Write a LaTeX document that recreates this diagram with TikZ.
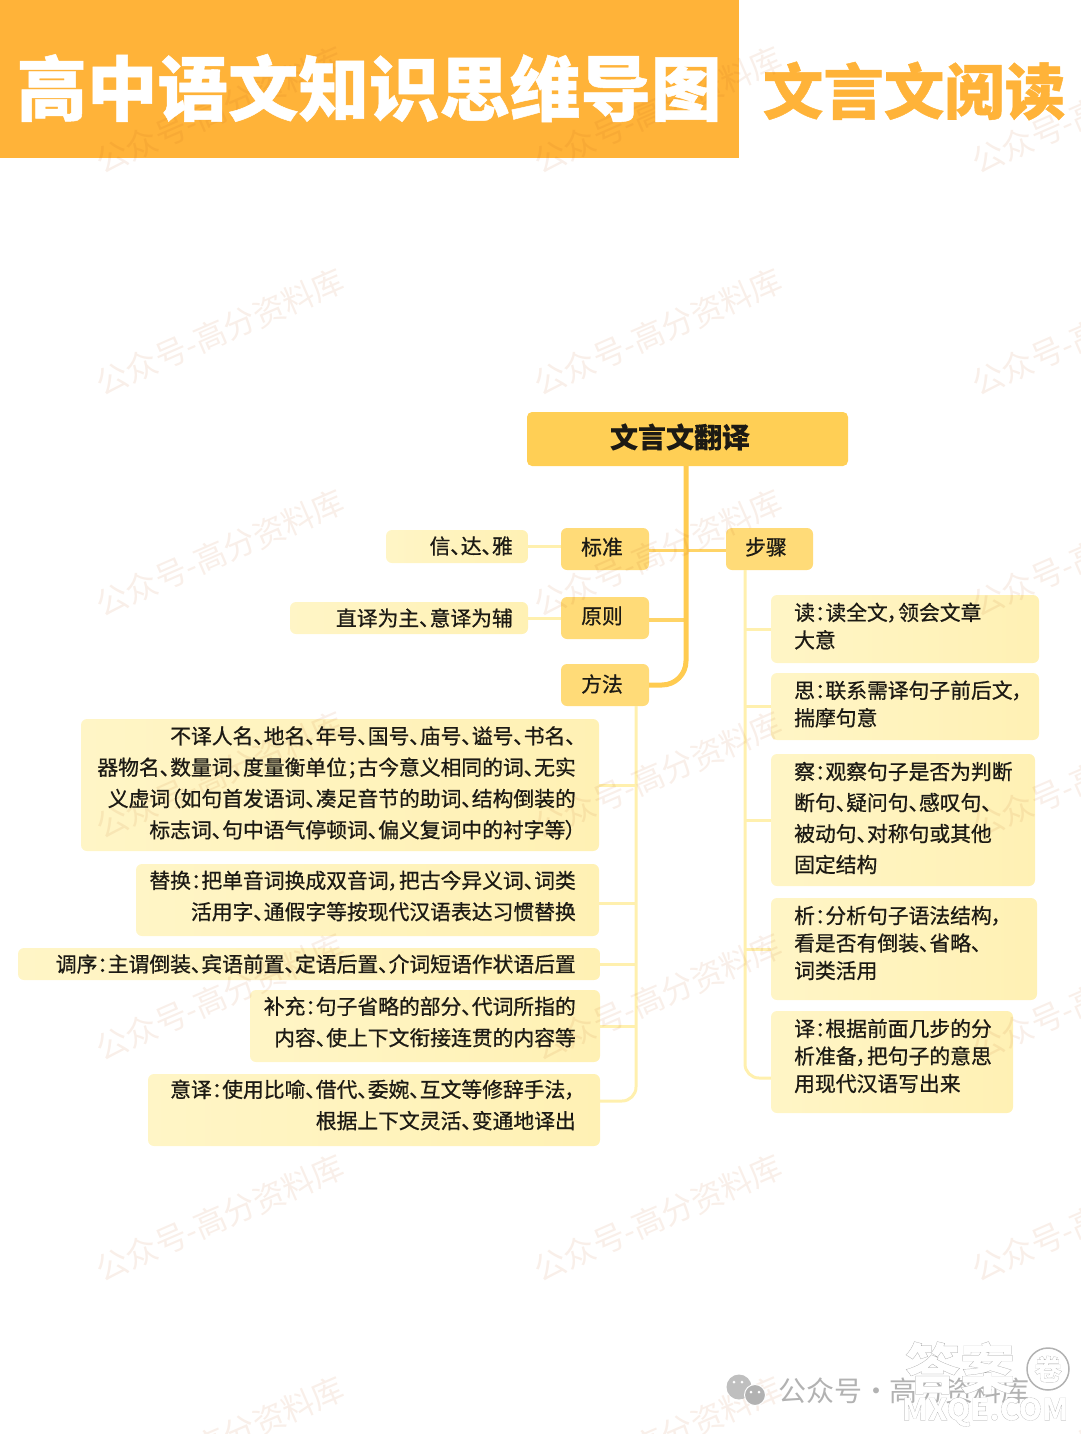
\documentclass[tikz,border=0pt]{standalone}
\usepackage{fontspec}
\setmainfont{Noto Sans CJK SC}[RawFeature=+palt,UprightFeatures={FakeBold=0.7},BoldFeatures={FakeBold=0.2}]
\newfontfamily\wmfont{Noto Sans CJK SC}[RawFeature=+palt]
\newfontfamily\headfont{Noto Sans CJK SC}[RawFeature=+palt,BoldFeatures={FakeBold=0.7}]
\newfontfamily\stampfont{Noto Sans CJK SC}[RawFeature=+palt,BoldFeatures={FakeBold=0.35}]
\definecolor{headO}{HTML}{FFB339}
\definecolor{rootY}{HTML}{FFCF55}
\definecolor{midY}{HTML}{FFDB78}
\definecolor{leafL}{HTML}{FFF5C6}
\definecolor{leafR}{HTML}{FFF1B4}
\definecolor{lineD}{HTML}{FFCB50}
\definecolor{lineL}{HTML}{FFF0AE}
\definecolor{inkT}{HTML}{1C1A14}
\definecolor{wmTint}{HTML}{B8500F}
\newcommand{\greystroke}{\special{pdf:code 0.62 G}}
\tikzset{
  x=1pt,y=-1pt,
  rootbox/.style={fill=rootY,rounded corners=5pt,inner sep=0pt},
  midbox/.style={fill=midY,rounded corners=6pt,inner sep=0pt},
  leafbox/.style={left color=leafL,right color=leafR,rounded corners=6pt,inner sep=0pt},
  rtext/.style={anchor=east,align=right,inner sep=0pt,text=inkT,font=\fontsize{20.8}{31.3}\selectfont},
  ltext/.style={anchor=west,align=left,inner sep=0pt,text=inkT,font=\fontsize{20.8}{27.5}\selectfont},
  ctext/.style={anchor=center,inner sep=0pt,text=inkT,font=\fontsize{20.8}{24}\selectfont},
  thick line/.style={draw=lineD,line width=5pt},
  mid line/.style={draw=lineD!75!lineL,line width=3.5pt},
  thin line/.style={draw=lineL,line width=3pt},
  wmark/.style={rotate=23.5,text=wmTint,opacity=.09,inner sep=0pt,font=\wmfont\fontsize{32}{34}\selectfont},
}
\newcommand{\bx}[6]{\node[#6,minimum width={(#4-#2)*1pt},minimum height={(#5-#3)*1pt}] (#1) at ({(#2+#4)/2},{(#3+#5)/2}) {};}
\begin{document}
\begin{tikzpicture}
\useasboundingbox (0,0) rectangle (1080,1434);
% header
\node[fill=headO,minimum width=739pt,minimum height=158pt,inner sep=0pt] (hd) at (369.5,79) {};
\node[text=headO,inner sep=0pt,font=\headfont\bfseries\fontsize{60.5}{62}\selectfont] (hs) at (914,91) {文言文阅读};
% boxes
\bx{root}{527}{412}{848}{466}{rootbox}
\bx{bz}{561}{528}{649}{570}{midbox}
\bx{yz}{561}{597}{649}{639}{midbox}
\bx{ff}{561}{664}{649}{706}{midbox}
\bx{bj}{726}{528}{813}{570}{midbox}
\bx{xin}{386}{530}{528}{563}{leafbox}
\bx{zy}{290}{602}{528}{634}{leafbox}
\bx{la}{81}{719}{599}{851}{leafbox}
\bx{lb}{136}{864}{599}{936}{leafbox}
\bx{lc}{18}{948}{600}{980}{leafbox}
\bx{ld}{250}{990}{600}{1062}{leafbox}
\bx{le}{148}{1074}{600}{1146}{leafbox}
\bx{ra}{771}{595}{1039}{663}{leafbox}
\bx{rb}{771}{673}{1039}{740}{leafbox}
\bx{rc}{771}{754}{1035}{886}{leafbox}
\bx{rd}{771}{898}{1037}{1000}{leafbox}
\bx{re}{771}{1011}{1013}{1113}{leafbox}
% connectors
\coordinate (spL) at (636,700);
\coordinate (spR) at (745,570);
\coordinate (spM) at (686,466);
\draw[thin line] (xin.east) -- (xin.east -| bz.west);
\draw[thin line] (zy.east) -- (yz.west);
\draw[mid line] ([yshift=-1.5pt]bz.east) -- ([yshift=-1.5pt]bj.west);
\draw[mid line] ([yshift=-2pt]yz.east) -- ([yshift=-2pt]yz.east -| spM);
\draw[thick line,rounded corners=24pt] (spM) -- (spM |- ff.east) -- (ff.east);
\draw[thin line,rounded corners=14pt] (spL |- ff.south) -- (636,1101) -- (le.east |- 636,1101);
\draw[thin line] (la.east) -- (la.east -| spL);
\draw[thin line] ([yshift=-3pt]lb.east) -- ([yshift=-3pt]lb.east -| spL);
\draw[thin line] (lc.east) -- (lc.east -| spL);
\draw[thin line] (ld.east) -- (ld.east -| spL);
\draw[thin line,rounded corners=14pt] (spR |- bj.south) -- (745,1078) -- (re.west |- 745,1078);
\draw[thin line] (ra.west) -- (ra.west -| spR);
\draw[thin line] (rb.west) -- (rb.west -| spR);
\draw[thin line] (rc.west) -- (rc.west -| spR);
\draw[thin line] (rd.west) -- (rd.west -| spR);
% watermark
\foreach \y [count=\j] in {110,332,553,775,997,1218,1440}{
  \foreach \x [count=\i] in {220,658,1096}{
    \node[wmark] (wm\i\j) at (\x,\y) {公众号-高分资料库};
  }
}
% texts
\node[text=white,inner sep=0pt,font=\headfont\bfseries\fontsize{70.5}{72}\selectfont] (ht) at (369,88) {高中语文知识思维导图};
\node[text=inkT,inner sep=0pt,font=\bfseries\fontsize{28}{30}\selectfont] (tr) at (680,437) {文言文翻译};
\node[ctext] (t1) at (602,547) {标准};
\node[ctext] (t2) at (602,616) {原则};
\node[ctext] (t3) at (602,684) {方法};
\node[ctext] (t4) at (766,547) {步骤};
\node[rtext] (t5) at (513,546) {信、达、雅};
\node[rtext] (t6) at (513,618) {直译为主、意译为辅};
\node[rtext] (t7) at (576,783) {不译人名、地名、年号、国号、庙号、谥号、书名、\\器物名、数量词、度量衡单位；古今意义相同的词、无实\\义虚词（如句首发语词、凑足音节的助词、结构倒装的\\标志词、句中语气停顿词、偏义复词中的衬字等）};
\node[rtext] (t8) at (576,896) {替换：把单音词换成双音词，把古今异义词、词类\\活用字、通假字等按现代汉语表达习惯替换};
\node[rtext] (t9) at (576,964) {调序：主谓倒装、宾语前置、定语后置、介词短语作状语后置};
\node[rtext] (t10) at (576,1022) {补充：句子省略的部分、代词所指的\\内容、使上下文衔接连贯的内容等};
\node[rtext] (t11) at (576,1105) {意译：使用比喻、借代、委婉、互文等修辞手法，\\根据上下文灵活、变通地译出};
\node[ltext] (t12) at (794,626) {读：读全文，领会文章\\大意};
\node[ltext] (t13) at (794,704) {思：联系需译句子前后文，\\揣摩句意};
\node[ltext,font=\fontsize{20.8}{31}\selectfont] (t14) at (794,818) {察：观察句子是否为判断\\断句、疑问句、感叹句、\\被动句、对称句或其他\\固定结构};
\node[ltext] (t15) at (794,943) {析：分析句子语法结构，\\看是否有倒装、省略、\\词类活用};
\node[ltext] (t16) at (794,1056) {译：根据前面几步的分\\析准备，把句子的意思\\用现代汉语写出来};
% footer
\node[circle,fill=black!25,minimum size=25pt,inner sep=0pt] (wa) at (739,1387) {};
\node[circle,fill=black!30,draw=white,line width=1pt,minimum size=21pt,inner sep=0pt] (wb) at (755,1395) {};
\node[circle,fill=white,minimum size=3pt,inner sep=0pt] (e1) at (734,1382) {};
\node[circle,fill=white,minimum size=3pt,inner sep=0pt] (e2) at (742,1382) {};
\node[circle,fill=white,minimum size=3pt,inner sep=0pt] (e3) at (751,1392) {};
\node[circle,fill=white,minimum size=3pt,inner sep=0pt] (e4) at (759,1392) {};
\node[text=black!30,inner sep=0pt,font=\wmfont\fontsize{28}{30}\selectfont] (ft) at (904,1391) {公众号 · 高分资料库};
\node[text=white,inner sep=0pt,font=\stampfont\bfseries\fontsize{55}{57}\selectfont] (s1) at (960,1368) {\greystroke 答案};
\node[circle,draw=black!30,line width=1.5pt,minimum size=42pt,inner sep=0pt] (ring) at (1048,1369) {};
\node[text=white,inner sep=0pt,font=\stampfont\bfseries\fontsize{28}{30}\selectfont] (s2) at (1048,1369) {\greystroke 卷};
\node[text=white,inner sep=0pt,font=\stampfont\bfseries\fontsize{30}{32}\selectfont] (s3) at (985,1412) {\greystroke MXQE.COM};
\end{tikzpicture}
\end{document}
